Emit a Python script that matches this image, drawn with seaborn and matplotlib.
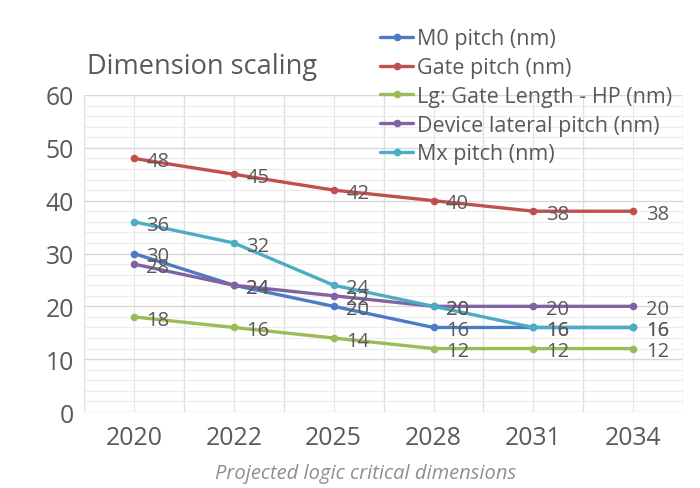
import matplotlib
matplotlib.use("Agg")
import matplotlib.pyplot as plt
from matplotlib.ticker import MultipleLocator, FixedLocator
import seaborn as sns
import pandas as pd

years = ["2020", "2022", "2025", "2028", "2031", "2034"]
m0_pitch = [30, 24, 20, 16, 16, 16]
gate_pitch = [48, 45, 42, 40, 38, 38]
lg_gate_length = [18, 16, 14, 12, 12, 12]
device_lateral_pitch = [28, 24, 22, 20, 20, 20]
mx_pitch = [36, 32, 24, 20, 16, 16]
series_names = ["M0 pitch (nm)", "Gate pitch (nm)", "Lg: Gate Length - HP (nm)",
                "Device lateral pitch (nm)", "Mx pitch (nm)"]
colors = ["#4A7BC4", "#C0504D", "#9BBB59", "#8064A2", "#4BACC6"]

series_values = [m0_pitch, gate_pitch, lg_gate_length, device_lateral_pitch, mx_pitch]
rows = []
for name, vals in zip(series_names, series_values):
    for i, (y, v) in enumerate(zip(years, vals)):
        rows.append({"idx": i, "year": y, "value": v, "series": name})
df = pd.DataFrame(rows)

sns.set_theme(style="white")
plt.rcParams["font.family"] = ["Open Sans", "DejaVu Sans"]
text_color = "#595959"

fig = plt.figure(figsize=(7, 4.89), dpi=100)
ax = fig.add_axes([0.12, 0.1554, 0.856, 0.6483])

sns.lineplot(data=df, x="idx", y="value", hue="series", hue_order=series_names,
             palette=colors, marker="o", markersize=5.5, markeredgewidth=0,
             linewidth=2.4, sort=False, ax=ax, legend=True)

for name, vals, c in zip(series_names, series_values, colors):
    for i, v in enumerate(vals):
        ax.annotate(str(v), (i, v), xytext=(9, -2), textcoords="offset points",
                    ha="left", va="center", fontsize=14.5, color=text_color)

ax.set_xlim(-0.5, 5.5)
ax.set_ylim(0, 60)
ax.yaxis.set_major_locator(MultipleLocator(10))
ax.yaxis.set_minor_locator(MultipleLocator(2))
ax.xaxis.set_major_locator(FixedLocator(range(len(years))))
ax.set_xticklabels(years)
ax.xaxis.set_minor_locator(FixedLocator([i - 0.5 for i in range(len(years) + 1)]))
ax.grid(which="major", axis="y", color="#d9d9d9", linewidth=1.0)
ax.grid(which="minor", axis="y", color="#ececec", linewidth=0.8)
ax.grid(which="minor", axis="x", color="#e0e0e0", linewidth=1.0)
ax.grid(which="major", axis="x", color="#e6e6e6", linewidth=0.9)
ax.set_axisbelow(True)
for s in ax.spines.values():
    s.set_visible(False)
ax.tick_params(axis="both", which="both", length=0, labelsize=17.8, labelcolor=text_color)
ax.tick_params(axis="x", pad=9)
ax.tick_params(axis="y", pad=7)
ax.set_xlabel("")
ax.set_ylabel("")

handles, labels = ax.get_legend_handles_labels()
leg = ax.legend(handles, labels, loc="upper left", bbox_to_anchor=(0.494, 1.21),
                frameon=False, fontsize=15.5, handlelength=1.55, handletextpad=0.15,
                labelspacing=0.36, borderaxespad=0, borderpad=0)
for t in leg.get_texts():
    t.set_color(text_color)

fig.text(87 / 700, 1 - 67 / 489, "Dimension scaling", fontsize=19.5, color=text_color,
         ha="left", va="center")
fig.text(366 / 700, 1 - 474 / 489, "Projected logic critical dimensions", fontsize=14.5,
         color="#8f8f8f", style="italic", ha="center", va="center")

fig.savefig("out.png", dpi=100, facecolor="white")
